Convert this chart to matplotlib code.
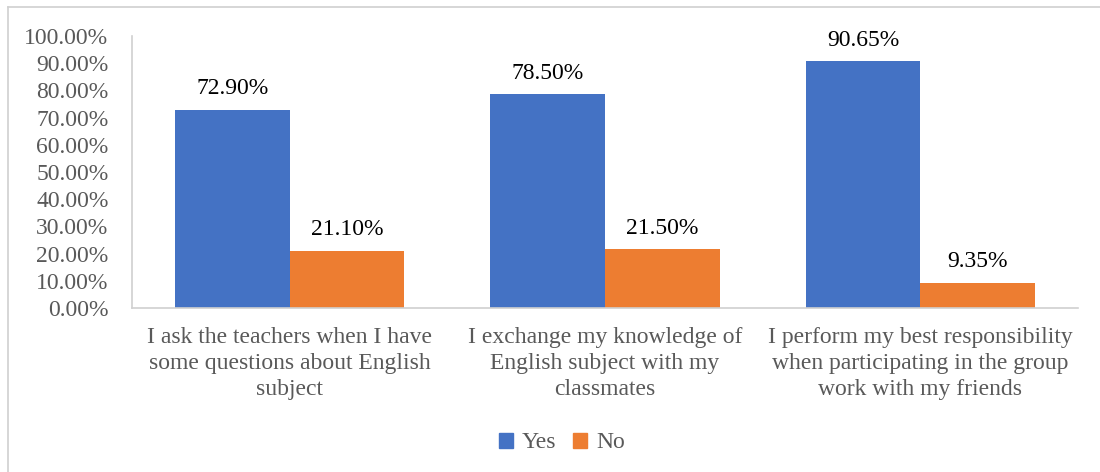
import matplotlib.pyplot as plt
from matplotlib.lines import Line2D
from matplotlib.patches import Patch
import numpy as np

plt.rcParams['font.family'] = ['Liberation Serif', 'DejaVu Serif']

categories = [
    'I ask the teachers when I have\nsome questions about English\nsubject',
    'I exchange my knowledge of\nEnglish subject with my\nclassmates',
    'I perform my best responsibility\nwhen participating in the group\nwork with my friends',
]
yes_values = [72.90, 78.50, 90.65]
no_values = [21.10, 21.50, 9.35]
series_names = ['Yes', 'No']
yticks = np.arange(0, 101, 10)

blue = '#4472C4'
orange = '#ED7D31'
gray_text = '#595959'
axis_gray = '#D0D0D0'
fs = 17

fig = plt.figure(figsize=(11, 4.72), dpi=100)
ax = fig.add_axes([0.12, 0.3475, 0.86, 0.5763])

# outer chart frame
fig.add_artist(Line2D([8 / 1100, 8 / 1100], [0, 1 - 7 / 472], transform=fig.transFigure,
                      color=axis_gray, lw=1.2))
fig.add_artist(Line2D([8 / 1100, 1], [1 - 7 / 472, 1 - 7 / 472], transform=fig.transFigure,
                      color=axis_gray, lw=1.2))

x = np.arange(len(categories))
width = 1 / 2.75
bars_yes = ax.bar(x - width / 2, yes_values, width, color=blue, label=series_names[0])
bars_no = ax.bar(x + width / 2, no_values, width, color=orange, label=series_names[1])

for bars, vals in ((bars_yes, yes_values), (bars_no, no_values)):
    for b, v in zip(bars, vals):
        ax.annotate(f'{v:.2f}%', (b.get_x() + b.get_width() / 2, v),
                    xytext=(0, 15), textcoords='offset points',
                    ha='center', va='center', fontsize=fs, color='black')

ax.set_xlim(-0.5, len(categories) - 0.5)
ax.set_ylim(0, 100)
ax.set_yticks(yticks)
ax.set_yticklabels([f'{t:.2f}%' for t in yticks])
ax.set_xticks(x)
ax.set_xticklabels(categories, linespacing=1.3)
ax.tick_params(axis='y', length=0, pad=17, labelsize=fs, labelcolor=gray_text)
ax.tick_params(axis='x', length=0, pad=14, labelsize=fs, labelcolor=gray_text)

for side in ('top', 'right'):
    ax.spines[side].set_visible(False)
for side in ('left', 'bottom'):
    ax.spines[side].set_color(axis_gray)
    ax.spines[side].set_linewidth(1.2)

handles = [Patch(color=blue), Patch(color=orange)]
fig.legend(handles, series_names, loc='center', bbox_to_anchor=(562 / 1100, 1 - 443 / 472),
           ncol=2, frameon=False, fontsize=fs, labelcolor=gray_text,
           handlelength=0.6, handleheight=0.6, handletextpad=0.4, columnspacing=0.7)

fig.savefig('out.png', dpi=100)
